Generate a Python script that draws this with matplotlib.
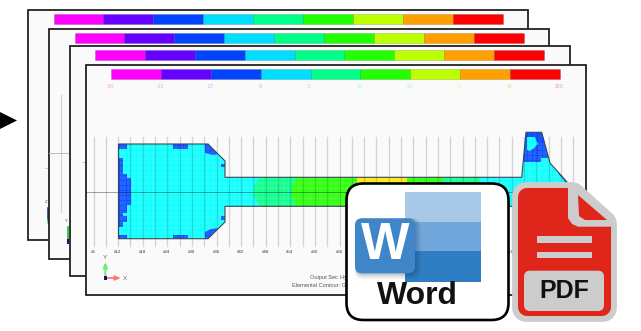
import matplotlib
matplotlib.use("Agg")
import matplotlib.pyplot as plt
from matplotlib.patches import Polygon, Rectangle, FancyBboxPatch

# ---------- content ----------
legend_values = ["-50.", "-33.", "-17.", "0.", "17.", "33.", "50.", "67.", "83.", "100."]
legend_colors = ["#FF00FF", "#6600FF", "#0044FF", "#00DDFF", "#00FF88",
                 "#22FF00", "#BBFF00", "#FF9F00", "#FF0000"]
label_colors = ["#FF9CFF", "#FF9CFF", "#C49CFF", "#9CB8FF", "#9CEEFF",
                "#9CFFC8", "#A8FFA8", "#D8FF98", "#FFD498", "#FF9898"]
section_numbers = [6, 12, 18, 24, 30, 36, 42, 48, 54, 60, 66, 108]
section_slots = [0, 1, 2, 3, 4, 5, 6, 7, 8, 9, 10, 17]
caption_lines = ["Output Set: Hydrostatic", "Elemental Contour: Global"]

W, H = 641, 331
fig = plt.figure(figsize=(W / 100, H / 100), dpi=100)
ax = fig.add_axes([0, 0, 1, 1])
ax.set_xlim(0, W)
ax.set_ylim(H, 0)
ax.axis("off")
plt.rcParams["font.family"] = ["Liberation Sans", "DejaVu Sans"]

PAGE_FILL = "#FAFAFA"
BLUE, CYAN = "#0044FF", "#00FFFF"


def poly(pts, fc, z, ec="none", lw=0, clip=None, join="miter"):
    p = Polygon(pts, closed=True, fc=fc, ec=ec, lw=lw, zorder=z, joinstyle=join)
    ax.add_patch(p)
    if clip is not None:
        p.set_clip_path(clip)
    return p


def rect(x0, y0, x1, y1, fc, z, clip=None, ec="none", lw=0, alpha=None):
    p = Rectangle((x0, y0), x1 - x0, y1 - y0, fc=fc, ec=ec, lw=lw, zorder=z, alpha=alpha)
    ax.add_patch(p)
    if clip is not None:
        p.set_clip_path(clip)
    return p


def rrect(x0, y0, x1, y1, r, fc, z, ec="none", lw=0, alpha=None):
    p = FancyBboxPatch((x0 + r, y0 + r), x1 - x0 - 2 * r, y1 - y0 - 2 * r,
                       boxstyle=f"round,pad={r},rounding_size={r}",
                       fc=fc, ec=ec, lw=lw, zorder=z, alpha=alpha)
    ax.add_patch(p)
    return p


# ---------- arrow at the left edge ----------
poly([(-1, 111.5), (17, 120.5), (-1, 129.5)], "black", 1)

# ---------- stacked pages ----------
pages = [(27.5, 10, 528, 240, 53.5, 14, 24),
         (48.5, 29, 549, 259, 74.5, 33, 43),
         (69.5, 45.5, 570, 276, 95, 50, 60),
         (85.5, 65, 586, 295, 111, 69, 79)]
for i, (l, t, r, b, bx, by0, by1) in enumerate(pages):
    z = 2 + i * 2
    rect(l, t, r, b, PAGE_FILL, z, ec="#222222", lw=1.3)
    step = 449 / len(legend_colors)
    for k, c in enumerate(legend_colors):
        rect(bx + k * step, by0, bx + (k + 1) * step, by1, c, z + 0.5, ec="#00000030", lw=0.5)

# traces of the drawings on the pages behind
ax.plot([60.7, 60.7], [95, 212], color="#D4D4D4", lw=0.9, zorder=4.2)
ax.plot([49, 69], [153, 153], color="#BBBBBB", lw=0.7, zorder=4.2)
ax.plot([45, 48], [168, 168], color="#CCCCCC", lw=0.7, zorder=2.2)
ax.plot([82, 85], [162, 162], color="#CCCCCC", lw=0.7, zorder=6.2)
ax.plot([47.5, 47.5], [208, 220], color="#3333BB", lw=1.2, zorder=2.2)
ax.plot([47.5, 47.5], [220, 223], color="#55DD66", lw=1.2, zorder=2.2)
ax.plot([68, 68], [227, 240], color="#22BB33", lw=1.2, zorder=4.2)
ax.plot([68, 68], [240, 243], color="#1A1A66", lw=1.5, zorder=4.2)
ax.text(47.5, 202, "Z", fontsize=3.2, color="#555555", ha="right", va="center", zorder=2.2)
ax.text(68, 221, "Y", fontsize=3.2, color="#555555", ha="right", va="center", zorder=4.2)

# ---------- front page: legend labels ----------
Z = 9
step = 449 / len(legend_colors)
for k, (v, c) in enumerate(zip(legend_values, label_colors)):
    ax.text(111 + k * step, 86.5, v, fontsize=3.6, color=c, ha="center", va="center", zorder=Z)

# ---------- front page: model ----------
outline = [(118.5, 144), (208, 144), (225, 161), (225, 177.3), (521.7, 177.3),
           (526, 132.3), (541.7, 132.3), (550, 163), (567, 182), (570, 191.5),
           (567, 201), (550, 220), (541.7, 251), (526, 251), (521.7, 206.3),
           (225, 206.3), (225, 222), (208, 238.7), (118.5, 238.7)]
shape = poly(outline, CYAN, Z)

# contour bands along the neck
for x0, x1, y0, y1, c in [(262, 297, 177, 207, "#00FF88"),
                          (297, 408, 177, 207, "#22FF00"),
                          (357, 407, 177, 183, "#FFE600"),
                          (443, 480, 177, 183, "#00FF88"),
                          (407, 443, 177, 183, "#22FF00")]:
    rect(x0, y0, x1, y1, c, Z + 0.1, clip=shape)
poly([(254, 186), (258, 180), (262, 177), (262, 207), (258, 204), (254, 197)], "#00FF88", Z + 0.1, clip=shape)
poly([(297, 177), (297, 207), (292, 198), (292, 186)], "#22FF00", Z + 0.1, clip=shape)

# stress patches near the head and at the far end
for x0, y0, x1, y1 in [(118.5, 144, 127, 148.7), (172.5, 144, 188, 148.7), (221, 163.5, 225, 167),
                       (118.5, 158, 122.5, 227), (122.5, 174, 127, 213), (122.5, 216, 127, 222),
                       (127, 178, 131, 205), (118.5, 234.5, 127, 238.7), (172.5, 234.5, 188, 238.7),
                       (221, 216, 225, 219.5)]:
    rect(x0, y0, x1, y1, BLUE, Z + 0.2, clip=shape)
poly([(205, 144), (208, 144), (218, 154), (213, 155), (205, 153)], BLUE, Z + 0.2, clip=shape)
poly([(205, 238.7), (208, 238.7), (219, 228), (211, 229), (205, 232)], BLUE, Z + 0.2, clip=shape)
poly([(520, 132), (545, 132), (552, 158), (541, 158), (541, 162), (520, 162)], BLUE, Z + 0.2, clip=shape)
poly([(527, 137), (535, 137), (538, 144), (534, 148), (530, 151), (527, 150)], CYAN, Z + 0.25, clip=shape)
poly([(558, 173), (570, 173), (570, 183), (566, 183)], BLUE, Z + 0.2, clip=shape)

# element mesh
for n in range(45):
    line = ax.axhline(144 + n * 2.5, color="white", lw=0.3, alpha=0.4, zorder=Z + 0.3)
    line.set_clip_path(shape)
for n in range(196):
    line = ax.axvline(93.5 + n * 2.46, color="white", lw=0.3, alpha=0.4, zorder=Z + 0.3)
    line.set_clip_path(shape)

# section lines and their labels
for n in range(40):
    ax.plot([93.5 + n * 12.3] * 2, [137, 246], color="black", alpha=0.15, lw=1.0, zorder=Z + 0.4)
for n, s in zip(section_slots, section_numbers):
    ax.text(93.3 + n * 24.6, 252, f"#{s}", fontsize=3.2, color="#333333", ha="center", va="center", zorder=Z)
ax.plot([86, 574], [191.5, 191.5], color="black", alpha=0.35, lw=0.7, zorder=Z + 0.4)
ax.add_patch(Polygon(outline, closed=True, fc="none", ec="#3A4A55", lw=0.8, zorder=Z + 0.5))

# axes triad
ax.annotate("", xy=(105.3, 262), xytext=(105.3, 278), zorder=Z,
            arrowprops=dict(arrowstyle="-|>,head_width=0.13,head_length=0.32", color="#66EE77",
                            lw=1.3, shrinkA=0, shrinkB=0))
ax.annotate("", xy=(121, 278), xytext=(105.3, 278), zorder=Z,
            arrowprops=dict(arrowstyle="-|>,head_width=0.13,head_length=0.32", color="#FF7777",
                            lw=1.3, shrinkA=0, shrinkB=0))
rect(103.5, 276.2, 107.1, 279.8, "#15155A", Z + 0.1)
ax.text(105.3, 257.5, "Y", fontsize=4.6, color="#666666", ha="center", va="center", zorder=Z)
ax.text(125, 278.5, "X", fontsize=4.6, color="#666666", ha="center", va="center", zorder=Z)

# caption
ax.text(310.5, 278, caption_lines[0], fontsize=4.1, color="#555555", ha="left", va="center", zorder=Z)
ax.text(292, 285.5, caption_lines[1], fontsize=4.1, color="#555555", ha="left", va="center", zorder=Z)

# ---------- Word badge ----------
Zw = 20
rrect(346.5, 183.5, 508.5, 320, 17, "white", Zw, ec="black", lw=1.9)
rect(405, 192.3, 480.7, 221.7, "#A8C8E8", Zw + 0.1)
rect(405, 221.7, 480.7, 251, "#70A6DA", Zw + 0.1)
rect(405, 251, 480.7, 281.7, "#2F7DC3", Zw + 0.1)
for grow, a in [(6, 0.05), (4.5, 0.06), (3, 0.08), (1.5, 0.10)]:
    rrect(355, 218.3, 415 + grow, 273.3 + grow, 8, "#0B2A4A", Zw + 0.2, alpha=a)
rrect(355, 218.3, 415, 273.3, 7, "#3E86C8", Zw + 0.3)
ax.text(385.5, 245.5, "W", fontsize=37, fontweight="bold", color="white",
        ha="center", va="center", zorder=Zw + 0.4)
ax.text(417.5, 296, "Word", fontsize=23, fontweight="bold", color="#111111",
        ha="center", va="center", zorder=Zw + 0.4)

# ---------- PDF badge ----------
Zp = 24
GREY = "#CCCCCC"
RED = "#E0251B"
poly([(526, 196), (572, 196), (603, 224), (603, 308), (526, 308)], GREY, Zp,
     ec=GREY, lw=20, join="round")
poly([(527, 197), (572, 197), (602, 224), (602, 307), (527, 307)], RED, Zp + 0.1,
     ec=RED, lw=13, join="round")
poly([(568, 186), (580, 186), (614, 216), (614, 226.7), (578, 226.7), (572, 224), (568, 218)],
     GREY, Zp + 0.15)
poly([(578, 195), (607, 220), (585, 220), (579, 216)], RED, Zp + 0.2)
rect(537, 236, 592, 242.7, GREY, Zp + 0.2)
rect(537, 252.3, 592, 258.3, GREY, Zp + 0.2)
rrect(524, 270.7, 604, 311, 6, GREY, Zp + 0.2)
ax.text(564, 291, "PDF", fontsize=18, fontweight="bold",
        color="#111111", ha="center", va="center", zorder=Zp + 0.3)

fig.savefig("out.png", dpi=100)
